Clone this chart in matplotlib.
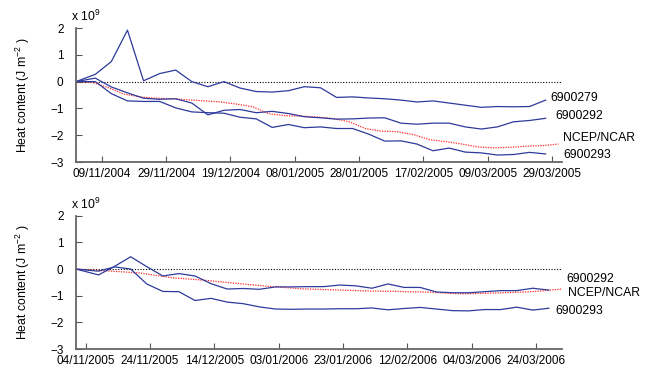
import numpy as np
import pandas as pd
import matplotlib
matplotlib.use('Agg')
import matplotlib.pyplot as plt
import matplotlib.dates as mdates

plt.rcParams['font.family'] = ['Liberation Sans', 'DejaVu Sans']
plt.rcParams['mathtext.default'] = 'regular'

# ---- 2004/05 season (days since 01/11/2004)
start_04 = '2004-11-01'
float_days_04 = [0, 6, 11, 16, 21, 26, 31, 36, 41, 46, 51, 56, 61, 66, 71,
                 76, 81, 86, 91, 96, 101, 106, 111, 116, 121, 126, 131, 136, 141, 146]
f279_04 = [0, 0.27, 0.75, 1.92, 0.03, 0.30, 0.43, 0.0, -0.19, 0.0, -0.24, -0.37, -0.39, -0.34, -0.19,
           -0.23, -0.59, -0.57, -0.61, -0.64, -0.69, -0.76, -0.72, -0.80, -0.88, -0.96, -0.93, -0.94, -0.93, -0.69]
f292_04 = [0, 0.13, -0.20, -0.42, -0.62, -0.66, -0.64, -0.80, -1.24, -1.07, -1.04, -1.16, -1.11, -1.19, -1.31,
           -1.35, -1.40, -1.39, -1.36, -1.35, -1.55, -1.59, -1.55, -1.55, -1.69, -1.77, -1.69, -1.50, -1.45, -1.37]
f293_04 = [0, 0.0, -0.45, -0.72, -0.74, -0.74, -0.98, -1.13, -1.16, -1.18, -1.33, -1.39, -1.71, -1.60, -1.72,
           -1.69, -1.75, -1.75, -1.96, -2.22, -2.21, -2.33, -2.58, -2.48, -2.63, -2.66, -2.74, -2.72, -2.64, -2.70]
ncep_days_04 = [0, 5, 10, 15, 20, 25, 30, 35, 40, 45, 50, 55, 60, 65, 70, 75,
                80, 85, 90, 95, 100, 105, 110, 115, 120, 125, 130, 135, 140, 145, 150]
ncep_04 = [0, -0.03, -0.22, -0.47, -0.57, -0.62, -0.64, -0.68, -0.72, -0.76, -0.84, -0.94, -1.20, -1.27, -1.29, -1.32,
           -1.38, -1.50, -1.75, -1.85, -1.87, -1.98, -2.17, -2.24, -2.33, -2.44, -2.47, -2.45, -2.41, -2.39, -2.33]
ticks_04 = ['2004-11-09', '2004-11-29', '2004-12-19', '2005-01-08', '2005-01-28',
            '2005-02-17', '2005-03-09', '2005-03-29']

# ---- 2005/06 season (days since 01/11/2005)
start_05 = '2005-11-01'
float_days_05 = [0, 7, 12, 17, 22, 27, 32, 37, 42, 47, 52, 57, 62, 67, 72,
                 77, 82, 87, 92, 97, 102, 107, 112, 117, 122, 127, 132, 137, 142, 147]
f292_05 = [0, -0.22, 0.10, 0.46, 0.09, -0.26, -0.17, -0.26, -0.55, -0.75, -0.73, -0.76, -0.67, -0.67, -0.66,
           -0.66, -0.60, -0.63, -0.72, -0.56, -0.69, -0.69, -0.86, -0.89, -0.89, -0.85, -0.81, -0.81, -0.72, -0.79]
f293_05 = [0, -0.08, 0.08, 0.0, -0.56, -0.84, -0.85, -1.18, -1.10, -1.24, -1.30, -1.42, -1.50, -1.51, -1.50,
           -1.50, -1.49, -1.49, -1.46, -1.53, -1.48, -1.44, -1.50, -1.56, -1.57, -1.52, -1.52, -1.43, -1.54, -1.47]
ncep_days_05 = [0, 10, 20, 30, 40, 50, 60, 70, 80, 90, 100, 110, 120, 130, 140, 145, 151]
ncep_05 = [0, -0.07, -0.15, -0.33, -0.42, -0.54, -0.65, -0.74, -0.78, -0.82, -0.84, -0.87, -0.93, -0.90, -0.86, -0.82, -0.75]
ticks_05 = ['2005-11-04', '2005-11-24', '2005-12-14', '2006-01-03', '2006-01-23',
            '2006-02-12', '2006-03-04', '2006-03-24']

blue = '#2d3a9c'
red = '#ff2a2a'


def to_dates(start, days):
    return pd.Timestamp(start) + pd.to_timedelta(days, unit='D')


def setup(ax, start, end, ticks):
    ax.axhline(0, color='black', ls=(0, (1, 1.5)), lw=0.8, zorder=1)
    ax.set_xlim(pd.Timestamp(start), pd.Timestamp(end))
    ax.set_ylim(-3, 2)
    ax.set_yticks([-3, -2, -1, 0, 1, 2])
    ax.set_xticks(pd.to_datetime(ticks))
    ax.xaxis.set_major_formatter(mdates.DateFormatter('%d/%m/%Y'))
    ax.tick_params(direction='in', length=4, labelsize=8.5, color='#555555', pad=4)
    ax.tick_params(axis='y', pad=9)
    for s in ['top', 'right']:
        ax.spines[s].set_visible(False)
    for s in ['left', 'bottom']:
        ax.spines[s].set_color('#666666')
        ax.spines[s].set_linewidth(1.3)
    ax.set_ylabel('Heat content (J m$^{-2}$ )', fontsize=8.8)
    ax.yaxis.set_label_coords(-0.09, 0.5)
    ax.text(-0.01, 1.03, r'x 10$^{9}$', transform=ax.transAxes, fontsize=8.8, va='bottom', ha='left')


fig = plt.figure(figsize=(6.49, 3.72), dpi=100)
ax1 = fig.add_axes([0.1171, 0.5645, 0.7484, 0.3602])
ax2 = fig.add_axes([0.1171, 0.0618, 0.7484, 0.3583])

setup(ax1, '2004-11-01', '2005-04-01', ticks_04)
ax1.plot(to_dates(start_04, ncep_days_04), ncep_04, color=red, ls=(0, (1, 1)), lw=0.9)
ax1.plot(to_dates(start_04, float_days_04), f279_04, color=blue, lw=0.9)
ax1.plot(to_dates(start_04, float_days_04), f292_04, color=blue, lw=0.9)
ax1.plot(to_dates(start_04, float_days_04), f293_04, color=blue, lw=0.9)
tr1 = ax1.get_yaxis_transform()
ax1.text(0.976, -0.62, '6900279', transform=tr1, fontsize=8.8, va='center', clip_on=False)
ax1.text(0.986, -1.28, '6900292', transform=tr1, fontsize=8.8, va='center', clip_on=False)
ax1.text(1.003, -2.10, 'NCEP/NCAR', transform=tr1, fontsize=8.8, va='center', clip_on=False)
ax1.text(1.003, -2.72, '6900293', transform=tr1, fontsize=8.8, va='center', clip_on=False)

setup(ax2, '2005-11-01', '2006-04-01', ticks_05)
ax2.plot(to_dates(start_05, ncep_days_05), ncep_05, color=red, ls=(0, (1, 1)), lw=0.9)
ax2.plot(to_dates(start_05, float_days_05), f292_05, color=blue, lw=0.9)
ax2.plot(to_dates(start_05, float_days_05), f293_05, color=blue, lw=0.9)
tr2 = ax2.get_yaxis_transform()
ax2.text(1.009, -0.39, '6900292', transform=tr2, fontsize=8.8, va='center', clip_on=False)
ax2.text(1.012, -0.91, 'NCEP/NCAR', transform=tr2, fontsize=8.8, va='center', clip_on=False)
ax2.text(0.986, -1.57, '6900293', transform=tr2, fontsize=8.8, va='center', clip_on=False)

fig.savefig('out.png', dpi=100)
